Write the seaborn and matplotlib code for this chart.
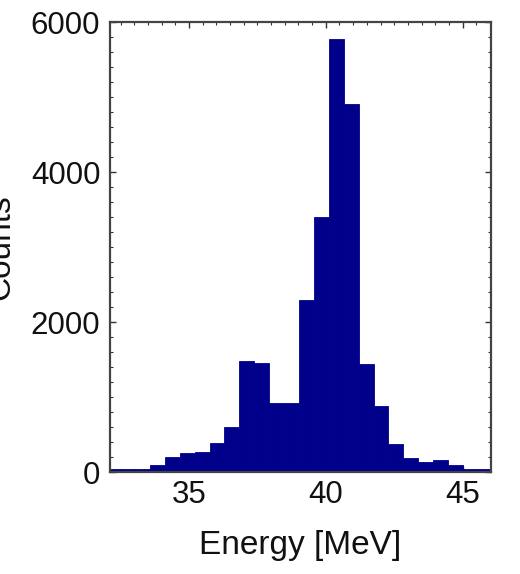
import numpy as np
import pandas as pd
import matplotlib
matplotlib.use("Agg")
import matplotlib.pyplot as plt
from matplotlib.ticker import MultipleLocator
import seaborn as sns

# Energy spectrum histogram: 26 equal-width energy bins
bin_start = 31.935      # MeV, lower edge of the first bin
bin_width = 0.545       # MeV
counts = [40, 40, 40, 100, 200, 260, 270, 390, 600, 1480, 1450, 920, 920,
          2300, 3400, 5780, 4910, 1440, 880, 380, 185, 135, 165, 95, 40, 40]

x_ticks = [35, 40, 45]
y_ticks = [0, 2000, 4000, 6000]

edges = bin_start + bin_width * np.arange(len(counts) + 1)
df = pd.DataFrame({
    "energy": (edges[:-1] + edges[1:]) / 2,
    "counts": np.asarray(counts, dtype=float),
})

sns.set_theme(style="white")
plt.rcParams["font.family"] = ["Liberation Sans", "DejaVu Sans"]

fig = plt.figure(figsize=(5.2, 5.74), dpi=100)
ax = fig.add_axes([110 / 520, 102 / 574, 381 / 520, 450 / 574])

navy = "#00008B"
sns.histplot(data=df, x="energy", weights="counts", bins=edges.tolist(), ax=ax,
             color=navy, alpha=1.0, edgecolor=navy, linewidth=0.6)

ax.set_xlim(32.11, 46.04)
ax.set_ylim(0, 6000)
ax.set_xticks(x_ticks)
ax.set_yticks(y_ticks)
ax.xaxis.set_minor_locator(MultipleLocator(0.5))
ax.yaxis.set_minor_locator(MultipleLocator(200))

for s in ax.spines.values():
    s.set_visible(True)
    s.set_color("#444444")
    s.set_linewidth(1.6)

ax.tick_params(which="both", direction="in", top=True, right=True,
               bottom=True, left=True, color="#333333")
ax.tick_params(which="major", length=4, width=1.0, labelsize=22.5, pad=7,
               labelcolor="#111111")
ax.tick_params(axis="x", which="major", pad=6)
ax.tick_params(which="minor", length=2.5, width=0.8)

ax.set_xlabel("Energy [MeV]", fontsize=24, color="#111111", labelpad=14)
ax.set_ylabel("Counts", fontsize=24, color="#111111")
ax.yaxis.set_label_coords(-0.245, 0.5)

fig.savefig("out.png", dpi=100)
